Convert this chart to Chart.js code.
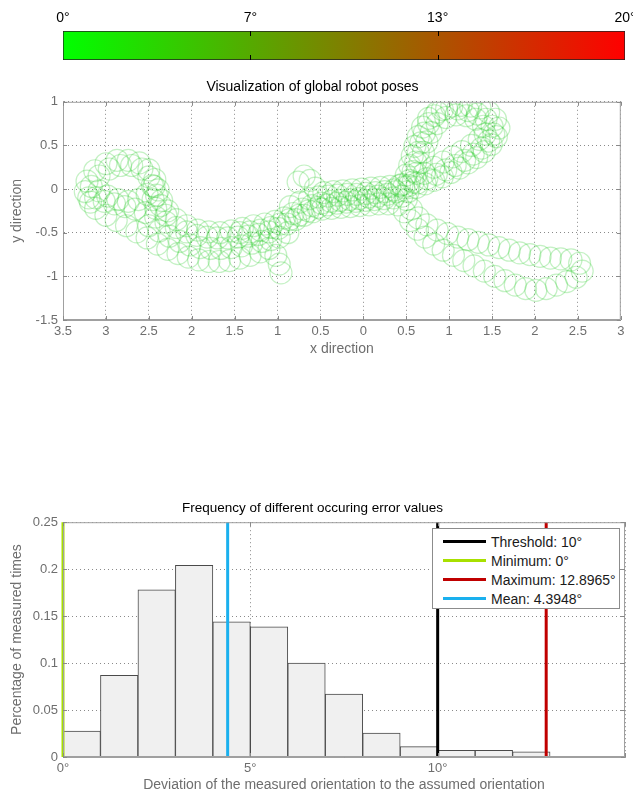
<!DOCTYPE html>
<html>
<head>
<meta charset="utf-8">
<script src="https://cdn.jsdelivr.net/npm/chart.js@4"></script>
<style>
  body { margin: 0; width: 633px; height: 795px; overflow: hidden; position: relative; background: #fff; }
  canvas { position: absolute; left: 0; }
  #legend {
    position: absolute; left: 432px; top: 528px; width: 188px; height: 81px;
    box-sizing: border-box; border: 1px solid #8c8c8c; background: #fff;
    padding-top: 3px; font: 14px Arial, "Liberation Sans", sans-serif; color: #1a1a1a;
  }
  #legend .row { display: flex; align-items: center; height: 19px; }
  #legend .sw { width: 43px; height: 3px; margin: 0 5px 0 10px; }
</style>
</head>
<body>
<canvas id="cbar" width="640" height="70" style="top:0"></canvas>
<canvas id="poses" width="633" height="300" style="top:70px"></canvas>
<canvas id="hist" width="633" height="305" style="top:490px"></canvas>
<div id="legend"></div>
<script>
// colour bar
const cbarTicks = [0, 6.667, 13.333, 20];
const cbarLabels = ["0°", "7°", "13°", "20°"];
const cbarColors = ["#00ff00", "#ff0000"];

// robot poses (x, y), read along the driven path
const pathLeftLoop = [
  [-3.18,-0.15],[-3.24,-0.03],[-3.22,0.09],[-3.13,0.21],[-3.0,0.29],[-2.87,0.33],[-2.74,0.33],[-2.61,0.3],
  [-2.5,0.22],[-2.43,0.11],[-2.39,-0.01],[-2.35,-0.13],[-2.28,-0.25],[-2.18,-0.35],[-2.06,-0.42],[-1.93,-0.47],
  [-1.8,-0.49],[-1.67,-0.5],[-1.54,-0.48],[-1.41,-0.45],[-1.28,-0.42],[-1.15,-0.4],[-1.03,-0.37],[-0.92,-0.33],
  [-0.82,-0.28],[-0.71,-0.23],[-0.6,-0.19],[-0.49,-0.16],[-0.38,-0.14],[-0.27,-0.13],[-0.16,-0.12],[-0.05,-0.11],
  [0.06,-0.09],[0.17,-0.08],[0.28,-0.06],[0.38,-0.03],[0.47,0.02]
];
const pathLeftLoop2 = [
  [-3.12,-0.22],[-3.2,-0.1],[-3.17,0.03],[-3.08,0.15],[-2.96,0.23],[-2.83,0.27],[-2.7,0.27],[-2.58,0.23],
  [-2.5,0.14],[-2.46,0.04],[-2.41,-0.07],[-2.36,-0.19],[-2.3,-0.3]
];
const pathRightLoop = [
  [0.54,0.1],[0.58,0.2],[0.61,0.31],[0.64,0.42],[0.67,0.53],[0.71,0.64],[0.76,0.75],[0.83,0.84],
  [0.92,0.91],[1.03,0.95],[1.14,0.96],[1.25,0.95],[1.36,0.93],[1.46,0.88],[1.54,0.8],[1.58,0.7],
  [1.55,0.6],[1.49,0.51],[1.41,0.43],[1.32,0.36],[1.22,0.3],[1.12,0.24],[1.02,0.19],[0.92,0.14],
  [0.82,0.1],[0.72,0.06],[0.62,0.02],[0.52,-0.03]
];
const pathRightLoop2 = [
  [0.45,0.05],[0.5,0.16],[0.54,0.27],[0.57,0.38],[0.6,0.49],[0.64,0.6],[0.69,0.71],[0.76,0.81],
  [0.86,0.88],[0.97,0.92],[1.1,0.92],[1.22,0.9],[1.33,0.86],[1.43,0.8],[1.5,0.72],[1.52,0.63],
  [1.46,0.55],[1.38,0.47],[1.28,0.4],[1.18,0.33],[1.07,0.27],[0.96,0.22],[0.85,0.17],[0.74,0.12],
  [0.63,0.07],[0.53,0.04]
];
const pathRightLoop3 = [
  [0.58,0.08],[0.62,0.18],[0.66,0.3],[0.7,0.42],[0.74,0.54],[0.79,0.65],[0.86,0.75],[0.96,0.82],
  [1.08,0.85],[1.2,0.84],[1.31,0.8],[1.4,0.72],[1.42,0.63],[1.35,0.57],[1.26,0.5],[1.15,0.43],
  [1.04,0.37],[0.93,0.31],[0.82,0.25],[0.71,0.18]
];
const pathLowerRight = [
  [0.5,-0.12],[0.56,-0.23],[0.64,-0.33],[0.74,-0.41],[0.86,-0.47],[0.98,-0.51],[1.1,-0.55],[1.22,-0.58],
  [1.34,-0.61],[1.46,-0.64],[1.58,-0.67],[1.7,-0.7],[1.82,-0.73],[1.94,-0.75],[2.06,-0.77],[2.18,-0.79],
  [2.3,-0.8],[2.42,-0.81],[2.52,-0.85],[2.55,-0.94],[2.48,-1.01],[2.37,-1.06],[2.25,-1.1],[2.13,-1.14],
  [2.01,-1.16],[1.89,-1.14],[1.77,-1.1],[1.65,-1.05],[1.53,-1.0],[1.41,-0.94],[1.29,-0.88],[1.17,-0.82],
  [1.05,-0.76],[0.93,-0.7],[0.82,-0.63],[0.72,-0.55],[0.63,-0.46],[0.55,-0.36],[0.48,-0.26]
];
const pathReturn = [
  [0.4,-0.18],[0.29,-0.17],[0.18,-0.17],[0.07,-0.18],[-0.04,-0.19],[-0.15,-0.2],[-0.26,-0.21],[-0.37,-0.22],
  [-0.48,-0.23],[-0.59,-0.26],[-0.69,-0.3],[-0.79,-0.35],[-0.89,-0.4],[-0.99,-0.45],[-1.1,-0.49],[-1.22,-0.52],
  [-1.34,-0.54],[-1.46,-0.55],[-1.58,-0.56],[-1.7,-0.56],[-1.82,-0.55],[-1.94,-0.53],[-2.06,-0.49],[-2.18,-0.44],
  [-2.3,-0.38],[-2.42,-0.32],[-2.54,-0.27],[-2.66,-0.23],[-2.78,-0.2],[-2.9,-0.17],[-3.02,-0.14],[-3.12,-0.1]
];
const pathReturn2 = [
  [0.45,-0.08],[0.35,-0.1],[0.24,-0.11],[0.13,-0.12],[0.02,-0.13],[-0.09,-0.14],[-0.2,-0.15],[-0.31,-0.16],
  [-0.42,-0.18],[-0.53,-0.21],[-0.64,-0.25],[-0.75,-0.3],[-0.86,-0.35],[-0.97,-0.4],[-1.08,-0.44],[-1.2,-0.47],
  [-1.32,-0.49],[-1.44,-0.5]
];
const pathInnerLoop = [
  [-3.08,-0.02],[-2.98,-0.08],[-2.86,-0.12],[-2.74,-0.14],[-2.62,-0.12],[-2.52,-0.06],[-2.44,0.03],[-2.45,-0.12],
  [-2.42,-0.22]
];
const pathLowerLeft = [
  [-3.0,-0.3],[-2.88,-0.36],[-2.76,-0.42],[-2.64,-0.49],[-2.52,-0.56],[-2.4,-0.63],[-2.28,-0.69],[-2.16,-0.74],
  [-2.04,-0.78],[-1.92,-0.81],[-1.8,-0.83],[-1.68,-0.83],[-1.56,-0.82],[-1.44,-0.79],[-1.32,-0.76],[-1.2,-0.72],
  [-1.1,-0.68],[-1.02,-0.76],[-0.98,-0.86],[-0.96,-0.96]
];
const pathLowerMid = [
  [-2.5,-0.42],[-2.38,-0.48],[-2.26,-0.54],[-2.14,-0.6],[-2.02,-0.64],[-1.9,-0.67],[-1.78,-0.68],[-1.66,-0.68],
  [-1.54,-0.67],[-1.42,-0.65],[-1.3,-0.62],[-1.18,-0.6],[-1.08,-0.58],[-0.98,-0.55],[-0.88,-0.5]
];
const pathUpperMid = [
  [-0.76,0.08],[-0.69,0.15],[-0.62,0.1],[-0.56,0.01],[-0.46,-0.04],[-0.35,-0.03],[-0.24,-0.02],[-0.13,-0.01],
  [-0.02,0.0],[0.09,0.01],[0.2,0.02],[0.31,0.03],[0.42,0.04]
];
const pathCenter = [
  [-0.85,-0.2],[-0.74,-0.15],[-0.63,-0.11],[-0.52,-0.09],[-0.41,-0.08],[-0.3,-0.07],[-0.19,-0.06],[-0.08,-0.06],
  [0.03,-0.05],[0.14,-0.04],[0.25,-0.03],[0.36,-0.01]
];

// histogram of orientation error
const binStart = [0, 1, 2, 3, 4, 5, 6, 7, 8, 9, 10, 11, 12];
const freq = [0.0275, 0.087, 0.178, 0.204, 0.144, 0.1385, 0.1, 0.067, 0.0255, 0.011, 0.007, 0.007, 0.0055];
const refNames = ["Threshold: 10°", "Minimum: 0°", "Maximum: 12.8965°", "Mean: 4.3948°"];
const refValues = [10, 0, 12.8965, 4.3948];
const refColors = ["#000000", "#a8e000", "#c00000", "#1ab0ee"];

Chart.defaults.font.family = 'Arial, "Liberation Sans", sans-serif';
Chart.defaults.animation = false;

const greyText = "#6e6e6e";
const gridLine = { color: "#8a8a8a", drawTicks: false };
const axisBorder = { color: "#a0a0a0", dash: [1, 3] };

// box around the plot with small inward tick marks, like the original figure
const plotBox = {
  id: "plotBox",
  afterDraw(chart) {
    const { ctx, chartArea: a, scales } = chart;
    ctx.save();
    ctx.strokeStyle = "#a0a0a0";
    ctx.lineWidth = 1;
    ctx.strokeRect(a.left + 0.5, a.top + 0.5, a.width - 1, a.height - 1);
    ctx.strokeStyle = "#8a8a8a";
    ctx.beginPath();
    scales.x.ticks.forEach((t) => {
      const px = Math.round(scales.x.getPixelForValue(t.value)) + 0.5;
      ctx.moveTo(px, a.bottom); ctx.lineTo(px, a.bottom - 4);
      ctx.moveTo(px, a.top); ctx.lineTo(px, a.top + 4);
    });
    scales.y.ticks.forEach((t) => {
      const py = Math.round(scales.y.getPixelForValue(t.value)) + 0.5;
      ctx.moveTo(a.left, py); ctx.lineTo(a.left + 4, py);
      ctx.moveTo(a.right, py); ctx.lineTo(a.right - 4, py);
    });
    ctx.stroke();
    ctx.restore();
  },
};

// colour bar
const cbarTickMarks = {
  id: "cbarTickMarks",
  afterDatasetsDraw(chart) {
    const { ctx, chartArea: a, scales } = chart;
    ctx.save();
    ctx.strokeStyle = "#000";
    ctx.lineWidth = 1;
    cbarTicks.slice(1, -1).forEach((v) => {
      const px = Math.round(scales.x.getPixelForValue(v)) + 0.5;
      ctx.beginPath();
      ctx.moveTo(px, a.top);
      ctx.lineTo(px, a.top + 5);
      ctx.moveTo(px, a.bottom);
      ctx.lineTo(px, a.bottom - 5);
      ctx.stroke();
    });
    ctx.restore();
  },
};

new Chart(document.getElementById("cbar"), {
  type: "bar",
  data: {
    labels: ["error"],
    datasets: [
      {
        data: [[cbarTicks[0], cbarTicks[cbarTicks.length - 1]]],
        barPercentage: 1,
        categoryPercentage: 1,
        borderColor: "#222",
        borderWidth: 1,
        borderSkipped: false,
        backgroundColor: (c) => {
          const a = c.chart.chartArea;
          if (!a) return cbarColors[0];
          const g = c.chart.ctx.createLinearGradient(a.left, 0, a.right, 0);
          cbarColors.forEach((col, i) => g.addColorStop(i / (cbarColors.length - 1), col));
          return g;
        },
      },
    ],
  },
  options: {
    indexAxis: "y",
    responsive: false,
    layout: { padding: { left: 63, right: 15, top: 0, bottom: 10 } },
    plugins: { legend: { display: false }, tooltip: { enabled: false } },
    scales: {
      x: {
        type: "linear",
        position: "top",
        min: 0,
        max: 20,
        afterBuildTicks: (s) => { s.ticks = cbarTicks.map((v) => ({ value: v })); },
        afterFit: (s) => { s.height = 31; },
        ticks: {
          padding: 4,
          color: "#000",
          font: { size: 14 },
          maxRotation: 0,
          autoSkip: false,
          callback: (v, i) => cbarLabels[i],
        },
        grid: { display: false, drawTicks: false },
        border: { display: false },
      },
      y: { display: false },
    },
  },
  plugins: [cbarTickMarks],
});

// global robot poses
const poses = [].concat(pathLeftLoop, pathLeftLoop2, pathRightLoop, pathRightLoop2, pathRightLoop3,
  pathLowerRight, pathReturn, pathReturn2, pathInnerLoop, pathLowerLeft, pathLowerMid, pathUpperMid, pathCenter);

new Chart(document.getElementById("poses"), {
  type: "scatter",
  data: {
    datasets: [
      {
        data: poses.map(([x, y]) => ({ x, y })),
        pointRadius: 11,
        pointBorderWidth: 1.2,
        pointBorderColor: "rgba(30, 200, 30, 0.26)",
        pointBackgroundColor: "rgba(0, 0, 0, 0)",
      },
    ],
  },
  options: {
    responsive: false,
    layout: { padding: { left: 0, right: 8, top: 0, bottom: 0 } },
    plugins: {
      legend: { display: false },
      tooltip: { enabled: false },
      title: {
        display: true,
        text: "Visualization of global robot poses",
        color: "#000",
        font: { size: 14, weight: "normal" },
        padding: { top: 9, bottom: 6 },
      },
    },
    scales: {
      x: {
        type: "linear",
        min: -3.5,
        max: 3,
        afterFit: (s) => { s.height = 50; },
        ticks: {
          stepSize: 0.5,
          padding: 4,
          color: greyText,
          font: { size: 13 },
          maxRotation: 0,
          callback: (v) => String(Math.abs(Math.round(v * 10) / 10)),
        },
        grid: gridLine,
        border: axisBorder,
        title: { display: true, text: "x direction", color: greyText, font: { size: 14 }, padding: { top: 0, bottom: 12 } },
      },
      y: {
        type: "linear",
        min: -1.5,
        max: 1,
        afterFit: (s) => { s.width = 63; },
        ticks: {
          stepSize: 0.5,
          padding: 5,
          color: greyText,
          font: { size: 13 },
          callback: (v) => String(Math.round(v * 10) / 10),
        },
        grid: gridLine,
        border: axisBorder,
        title: { display: true, text: "y direction", color: greyText, font: { size: 14 }, padding: { top: 9, bottom: 0 } },
      },
    },
  },
  plugins: [plotBox],
});

// error histogram
const refSets = refValues.map((v, i) => ({
  type: "line",
  label: refNames[i],
  data: [{ x: v, y: 0 }, { x: v, y: 0.25 }],
  borderColor: refColors[i],
  borderWidth: 3,
  pointRadius: 0,
  clip: false,
  order: 0,
}));

new Chart(document.getElementById("hist"), {
  type: "bar",
  data: {
    datasets: refSets.concat([
      {
        type: "bar",
        label: "frequency",
        data: binStart.map((b, i) => ({ x: b + 0.5, y: freq[i] })),
        backgroundColor: "#f0f0f0",
        borderColor: "#4a4a4a",
        borderWidth: 1,
        barPercentage: 1,
        categoryPercentage: 1,
        order: 1,
      },
    ]),
  },
  options: {
    responsive: false,
    layout: { padding: { left: 0, right: 8, top: 0, bottom: 0 } },
    plugins: {
      legend: { display: false },
      tooltip: { enabled: false },
      title: {
        display: true,
        text: "Frequency of different occuring error values",
        color: "#000",
        font: { size: 13.5, weight: "normal" },
        padding: { top: 10, bottom: 6 },
      },
    },
    scales: {
      x: {
        type: "linear",
        min: 0,
        max: 15,
        offset: false,
        afterFit: (s) => { s.height = 38; },
        ticks: {
          stepSize: 5,
          padding: 4,
          color: greyText,
          font: { size: 13 },
          maxRotation: 0,
          callback: (v) => (v < 15 ? v + "°" : ""),
        },
        grid: Object.assign({ offset: false }, gridLine),
        border: axisBorder,
        title: {
          display: true,
          text: "Deviation of the measured orientation to the assumed orientation",
          color: greyText,
          font: { size: 14 },
          padding: { top: 0, bottom: 1 },
        },
      },
      y: {
        type: "linear",
        min: 0,
        max: 0.25,
        afterFit: (s) => { s.width = 63; },
        ticks: {
          stepSize: 0.05,
          padding: 5,
          color: greyText,
          font: { size: 13 },
          callback: (v) => String(+v.toFixed(2)),
        },
        grid: gridLine,
        border: axisBorder,
        title: {
          display: true,
          text: "Percentage of measured times",
          color: greyText,
          font: { size: 14 },
          padding: { top: 9, bottom: 0 },
        },
      },
    },
  },
  plugins: [plotBox],
});

// legend box inside the histogram
const legend = document.getElementById("legend");
refNames.forEach((name, i) => {
  const row = document.createElement("div");
  row.className = "row";
  const sw = document.createElement("span");
  sw.className = "sw";
  sw.style.background = refColors[i];
  const label = document.createElement("span");
  label.textContent = name;
  row.appendChild(sw);
  row.appendChild(label);
  legend.appendChild(row);
});
</script>
</body>
</html>
